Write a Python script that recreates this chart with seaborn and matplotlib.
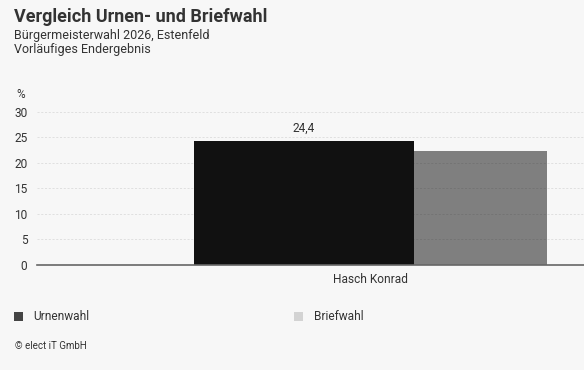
import pandas as pd
import matplotlib.pyplot as plt
import seaborn as sns
from matplotlib.patches import Patch

# Werte aus der Grafik
kandidaten = ['Hasch Konrad']
urnenwahl = [24.4]
briefwahl = [22.4]
arten = ['Urnenwahl', 'Briefwahl']
y_ticks = [0, 5, 10, 15, 20, 25, 30]

df = pd.DataFrame({
    'Kandidat': kandidaten * 2,
    'Prozent': urnenwahl + briefwahl,
    'Art': ['Urnenwahl'] * len(kandidaten) + ['Briefwahl'] * len(kandidaten),
})

bg = '#f7f7f7'
txt = '#333333'
sns.set_theme(style='white')
plt.rcParams['font.family'] = ['Roboto', 'DejaVu Sans']

fig = plt.figure(figsize=(5.84, 3.70), dpi=100, facecolor=bg)
ax = fig.add_axes([0.0634, 0.2838, 0.9366, 0.4135])
ax.set_facecolor(bg)

sns.barplot(data=df, x='Kandidat', y='Prozent', hue='Art', hue_order=arten,
            palette=['#111111', '#111111'], width=0.8, dodge=True,
            saturation=1, legend=False, ax=ax, zorder=2, linewidth=0)

# Urnenwahl breiter, Briefwahl schmaler und halbtransparent
n = len(kandidaten)
urn_bars = ax.patches[:n]
brief_bars = ax.patches[n:2 * n]
for b in urn_bars:
    b.set_width(0.5)
for b in brief_bars:
    b.set_x(b.get_x() + 0.1)
    b.set_width(0.3)
    b.set_alpha(0.52)

ax.bar_label(ax.containers[0], labels=[f'{v:.1f}'.replace('.', ',') for v in urnenwahl],
             padding=4, fontsize=8.6, color=txt)

ax.set_ylim(0, 30)
ax.set_xlim(-0.755, 0.485)
ax.set_yticks(y_ticks)
ax.yaxis.grid(True, color='#dcdcdc', linestyle=(0, (2.5, 2)), linewidth=0.6, zorder=0)
ax.set_axisbelow(True)
ax.tick_params(axis='y', length=0, pad=7, labelsize=8.6, labelcolor=txt)
ax.tick_params(axis='x', length=0, pad=6, labelsize=8.6, labelcolor=txt)
ax.set_xlabel('')
ax.set_ylabel('')
for s in ['top', 'right', 'left']:
    ax.spines[s].set_visible(False)
ax.spines['bottom'].set_color('#666666')
ax.spines['bottom'].set_linewidth(1.2)

fig.text(14 / 584, 1 - 17 / 370, 'Vergleich Urnen- und Briefwahl', fontsize=13,
         fontweight='bold', color=txt, va='center', ha='left')
fig.text(14 / 584, 1 - 35 / 370, 'Bürgermeisterwahl 2026, Estenfeld', fontsize=9,
         color=txt, va='center', ha='left')
fig.text(14 / 584, 1 - 49 / 370, 'Vorläufiges Endergebnis', fontsize=9,
         color=txt, va='center', ha='left')
fig.text(21 / 584, 1 - 95 / 370, '%', fontsize=8.6, color=txt, va='center', ha='center')

leg_cols = ['#444444', '#d3d3d3']
for i, (name, col) in enumerate(zip(arten, leg_cols)):
    x0 = [14, 294][i] / 584
    fig.legend(handles=[Patch(facecolor=col, edgecolor='none', label=name)],
               loc='center left', bbox_to_anchor=(x0, 1 - 317 / 370),
               frameon=False, fontsize=8.6, labelcolor=txt, borderpad=0,
               borderaxespad=0, handlelength=0.75, handleheight=0.75,
               handletextpad=0.9)

fig.text(15 / 584, 1 - 346 / 370, '© elect iT GmbH', fontsize=7, color=txt,
         va='center', ha='left')

fig.savefig('out.png', dpi=100, facecolor=bg)
